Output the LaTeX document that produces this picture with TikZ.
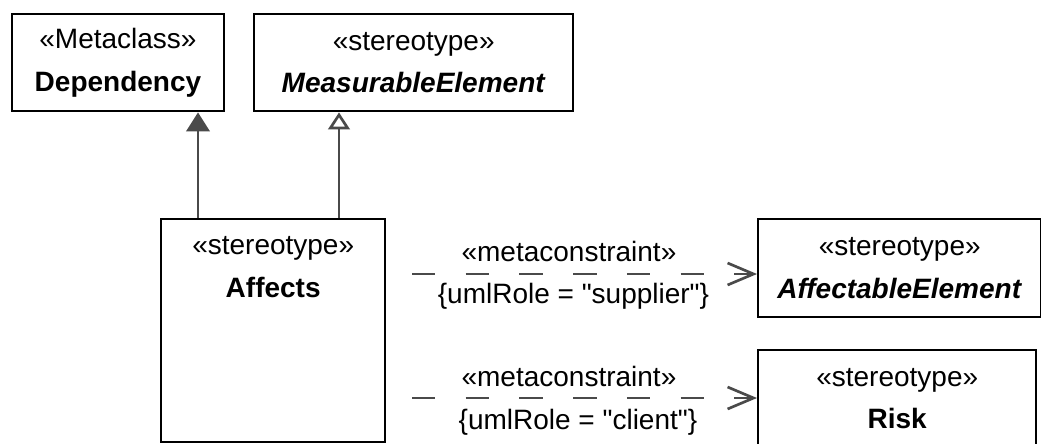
\documentclass[tikz,border=0pt]{standalone}
\usepackage{fontspec}
\setmainfont{Liberation Sans}[Ligatures=TeXOff]
\usepackage{xcolor}
\usepackage{tikz}
\usetikzlibrary{arrows.meta, positioning, calc}
\definecolor{linegrey}{RGB}{74, 74, 74}
\tikzstyle{umlbox} = [draw=black, line width=1.8pt, fill=white, align=center, inner sep=0pt, font=\fontsize{21}{32}\selectfont]
\tikzstyle{umlhead} = [draw=none, align=center, inner sep=0pt, font=\fontsize{21}{32}\selectfont]
\tikzstyle{metalabel} = [inner sep=0pt, font=\fontsize{21}{25}\selectfont]
\tikzstyle{extendsline} = [-{Triangle[length=14.25pt, width=17.5pt, fill=linegrey]}, draw=linegrey, line width=2pt]
\tikzstyle{generalline} = [-{Triangle[open, length=12.75pt, width=16.2pt]}, draw=linegrey, line width=2pt]
\tikzstyle{metaline} = [-{Straight Barb[length=19.5pt, width=16.5pt]}, draw=linegrey, line width=2pt, dash pattern=on 17.5pt off 22.8pt]

\begin{document}
\begin{tikzpicture}[x=0.75pt, y=-0.75pt]
    \clip (0,0) rectangle (1041,443);

    % Metaclass and stereotypes on top
    \node[umlbox, anchor=north west, minimum width=159.4pt, minimum height=72.75pt] (dependency) at (10.5,13) {«Metaclass»\\\textbf{Dependency}};
    \node[umlbox, anchor=north west, minimum width=239.25pt, minimum height=72.75pt] (measurable) at (253,13) {«stereotype»\\\textbf{\textit{MeasurableElement}}};

    % Affects stereotype
    \node[umlbox, anchor=north west, minimum width=168pt, minimum height=167.25pt] (affects) at (160,218) {};
    \node[umlhead, anchor=north, minimum height=73.5pt] (affectsHead) at (affects.north) {«stereotype»\\\textbf{Affects}};

    % Targets of the metaconstraints
    \node[umlbox, anchor=north west, minimum width=212.25pt, minimum height=73.5pt] (affectable) at (757,218) {«stereotype»\\\textbf{\textit{AffectableElement}}};
    \node[umlbox, anchor=north west, minimum width=208.5pt, minimum height=72.75pt] (risk) at (757,349) {«stereotype»\\\textbf{Risk}};

    % Extension and generalization
    \draw[extendsline] ([xshift=28.5pt]affects.north west) -- ([xshift=28.5pt]affects.north west |- dependency.south);
    \draw[generalline] ([xshift=134.25pt]affects.north west) -- ([xshift=134.25pt]affects.north west |- measurable.south);

    % Metaconstraints
    \coordinate (supplierStart) at (412,274);
    \coordinate (clientStart) at (412,398);
    \draw[metaline] (supplierStart) -- (supplierStart -| affectable.west)
        node[metalabel, pos=0.455, yshift=17.25pt] (supplierStereo) {«metaconstraint»}
        node[metalabel, pos=0.468, yshift=-16.9pt] (supplierRole) {\{umlRole = "supplier"\}};
    \draw[metaline] (clientStart) -- (clientStart -| risk.west)
        node[metalabel, pos=0.455, yshift=16.5pt] (clientStereo) {«metaconstraint»}
        node[metalabel, pos=0.481, yshift=-18.4pt] (clientRole) {\{umlRole = "client"\}};
\end{tikzpicture}
\end{document}
